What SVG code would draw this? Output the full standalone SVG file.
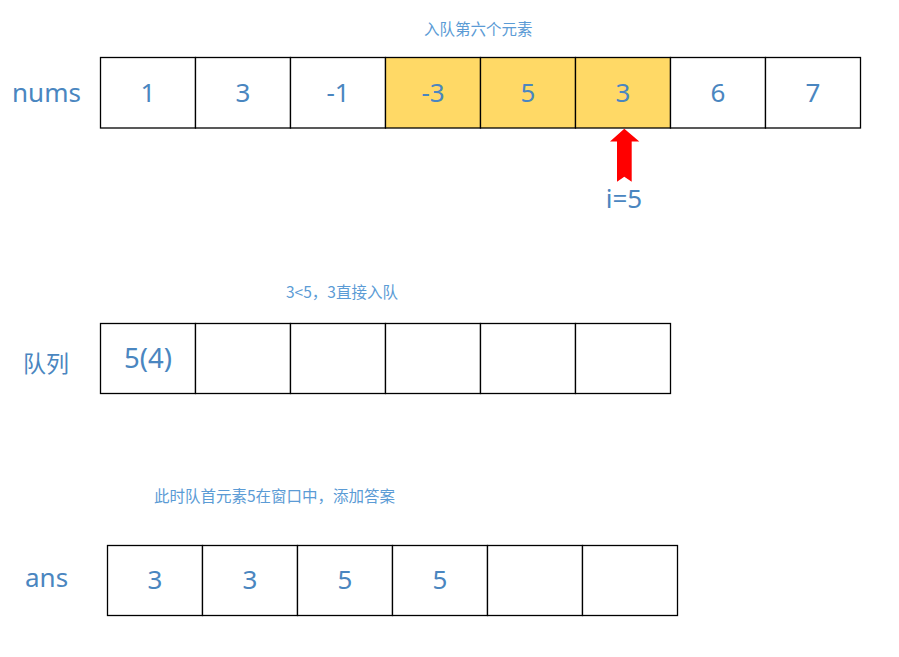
<svg xmlns="http://www.w3.org/2000/svg" width="899" height="657" viewBox="0 0 899 657">
<style>
.cell{fill:#FFFFFF;stroke:#000000;stroke-width:1.3}
.hl{fill:#FFD966;stroke:#000000;stroke-width:1.3}
.v{font-family:"Noto Sans","Noto Sans CJK SC",sans-serif;font-size:26px;fill:#4A86C0;text-anchor:middle}
.lab{font-family:"Noto Sans","Noto Sans CJK SC",sans-serif;font-size:26px;fill:#4A86C0}
.cap{font-family:"Noto Sans CJK SC","Noto Sans",sans-serif;font-size:15.5px;fill:#5B9BD5}
</style>
<rect width="899" height="657" fill="#FFFFFF"/>
<text class="cap" x="424" y="35">入队第六个元素</text>
<text class="lab" x="12" y="102">nums</text>
<g id="nums">
<rect class="cell" x="100.5" y="57.5" width="95" height="70.5"/>
<rect class="cell" x="195.5" y="57.5" width="95" height="70.5"/>
<rect class="cell" x="290.5" y="57.5" width="95" height="70.5"/>
<rect class="hl" x="385.5" y="57.5" width="95" height="70.5"/>
<rect class="hl" x="480.5" y="57.5" width="95" height="70.5"/>
<rect class="hl" x="575.5" y="57.5" width="95" height="70.5"/>
<rect class="cell" x="670.5" y="57.5" width="95" height="70.5"/>
<rect class="cell" x="765.5" y="57.5" width="95" height="70.5"/>
<text class="v" x="148" y="102">1</text>
<text class="v" x="243" y="102">3</text>
<text class="v" x="338" y="102">-1</text>
<text class="v" x="433" y="102">-3</text>
<text class="v" x="528" y="102">5</text>
<text class="v" x="623" y="102">3</text>
<text class="v" x="718" y="102">6</text>
<text class="v" x="813" y="102">7</text>
</g>
<g id="pointer">
<polygon points="624.3,128.8 639.3,141.5 631.7,141.5 631.7,181.7 624.3,176.7 617,181.7 617,141.5 610,141.5" fill="#FF0000"/>
<text class="v" x="624" y="208">i=5</text>
</g>
<text class="cap" x="286" y="298">3&lt;5，3直接入队</text>
<text class="lab" x="23" y="372" style="font-family:'Noto Sans CJK SC',sans-serif;font-size:23px">队列</text>
<g id="queue">
<rect class="cell" x="100.5" y="323.5" width="95" height="70"/>
<rect class="cell" x="195.5" y="323.5" width="95" height="70"/>
<rect class="cell" x="290.5" y="323.5" width="95" height="70"/>
<rect class="cell" x="385.5" y="323.5" width="95" height="70"/>
<rect class="cell" x="480.5" y="323.5" width="95" height="70"/>
<rect class="cell" x="575.5" y="323.5" width="95" height="70"/>
<text class="v" x="148" y="368" style="font-size:27.5px">5(4)</text>
</g>
<text class="cap" x="154" y="502">此时队首元素5在窗口中，添加答案</text>
<text class="lab" x="25" y="587">ans</text>
<g id="ans">
<rect class="cell" x="107.5" y="545.5" width="95" height="70"/>
<rect class="cell" x="202.5" y="545.5" width="95" height="70"/>
<rect class="cell" x="297.5" y="545.5" width="95" height="70"/>
<rect class="cell" x="392.5" y="545.5" width="95" height="70"/>
<rect class="cell" x="487.5" y="545.5" width="95" height="70"/>
<rect class="cell" x="582.5" y="545.5" width="95" height="70"/>
<text class="v" x="155" y="589">3</text>
<text class="v" x="250" y="589">3</text>
<text class="v" x="345" y="589">5</text>
<text class="v" x="440" y="589">5</text>
</g>
</svg>
